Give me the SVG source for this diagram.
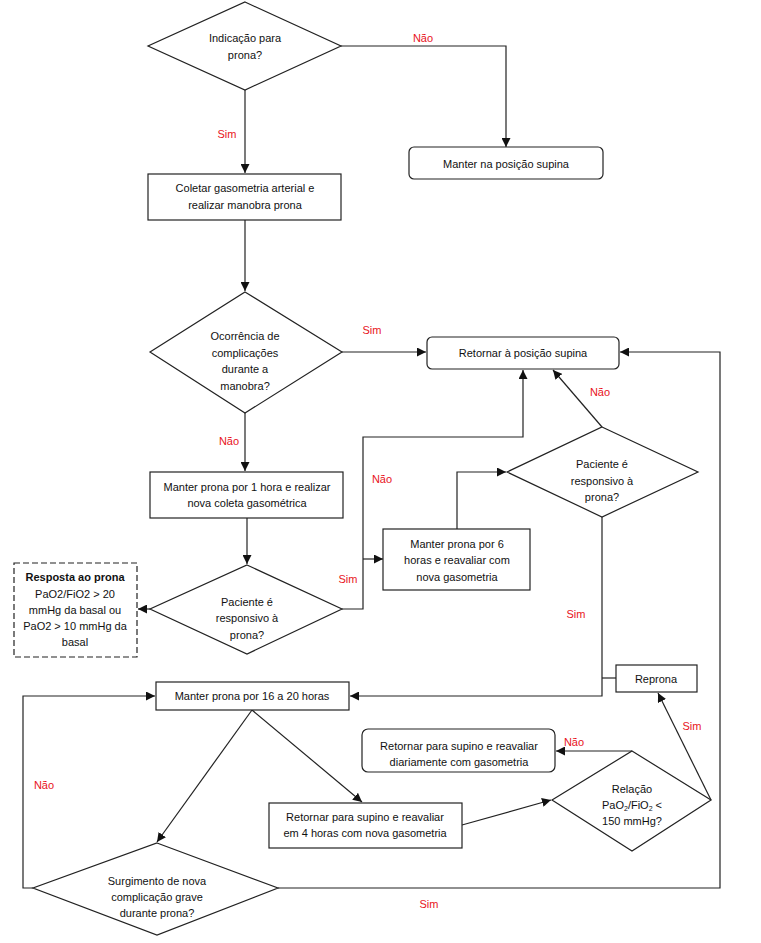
<svg xmlns="http://www.w3.org/2000/svg" width="761" height="943" viewBox="0 0 761 943">
<style>
.n{fill:#fff;stroke:#222;stroke-width:1.2}
.d{fill:#fff;stroke:#222;stroke-width:1.2;stroke-dasharray:6,3}
.t{font-family:"Liberation Sans",Arial,sans-serif;font-size:11px;fill:#111;text-anchor:middle}
.b{font-weight:bold}
.l{font-family:"Liberation Sans",Arial,sans-serif;font-size:11px;fill:#e8141c;text-anchor:middle}
.c{fill:none;stroke:#222;stroke-width:1.2}
</style>
<defs>
<marker id="a" viewBox="0 0 10 10" refX="10" refY="5" markerWidth="9" markerHeight="9" markerUnits="userSpaceOnUse" orient="auto">
<path d="M0,0 L10,5 L0,10 z" fill="#111"/>
</marker>
</defs>
<rect width="761" height="943" fill="#fff"/>
<g id="connectors" class="c" marker-end="url(#a)">
<path d="M341,46 H506 V147"/>
<path d="M245,90 V173"/>
<path d="M245,220 V291"/>
<path d="M342,352 H426"/>
<path d="M245,413 V471"/>
<path d="M247,518 V564"/>
<path d="M150,609 H138"/>
<path d="M342,609 H363 V437 H523 V370"/>
<path d="M363,559 H383"/>
<path d="M457,529 V472 H506"/>
<path d="M602,427 L553,370"/>
<path d="M602,517 V696 H350"/>
<path d="M616,678 H602" marker-end="none"/>
<path d="M711,800 L658,693"/>
<path d="M632,751 H556"/>
<path d="M462,825 L551,800"/>
<path d="M252,710 L157,842"/>
<path d="M252,710 L362,802"/>
<path d="M33,888 H23 V696 H155"/>
<path d="M278,888 H720 V352 H620"/>
</g>
<g id="labels">
<text class="l" x="423" y="42">Não</text>
<text class="l" x="227" y="138">Sim</text>
<text class="l" x="372" y="334">Sim</text>
<text class="l" x="229" y="445">Não</text>
<text class="l" x="382" y="483">Não</text>
<text class="l" x="600" y="396">Não</text>
<text class="l" x="348" y="583">Sim</text>
<text class="l" x="576" y="618">Sim</text>
<text class="l" x="44" y="789">Não</text>
<text class="l" x="574" y="746">Não</text>
<text class="l" x="692" y="730">Sim</text>
<text class="l" x="429" y="908">Sim</text>
</g>
<g id="d1">
<polygon class="n" points="245,2 341,46 245,90 148,46"/>
<text class="t" x="245" y="42">Indicação para</text>
<text class="t" x="245" y="59">prona?</text>
</g>
<g id="supina1">
<rect class="n" x="409" y="147" width="194" height="32" rx="5"/>
<text class="t" x="506" y="168">Manter na posição supina</text>
</g>
<g id="coletar">
<rect class="n" x="148" y="174" width="193" height="46"/>
<text class="t" x="245" y="192">Coletar gasometria arterial e</text>
<text class="t" x="245" y="209">realizar manobra prona</text>
</g>
<g id="d2">
<polygon class="n" points="245,292 342,352 245,413 150,352"/>
<text class="t" x="245" y="340">Ocorrência de</text>
<text class="t" x="245" y="357">complicações</text>
<text class="t" x="245" y="373">durante a</text>
<text class="t" x="245" y="390">manobra?</text>
</g>
<g id="retornar">
<rect class="n" x="427" y="337" width="192" height="32" rx="5"/>
<text class="t" x="523" y="357">Retornar à posição supina</text>
</g>
<g id="manter1h">
<rect class="n" x="150" y="472" width="193" height="46"/>
<text class="t" x="247" y="491">Manter prona por 1 hora e realizar</text>
<text class="t" x="247" y="507">nova coleta gasométrica</text>
</g>
<g id="d3">
<polygon class="n" points="247,565 342,609 247,654 150,609"/>
<text class="t" x="247" y="606">Paciente é</text>
<text class="t" x="247" y="622">responsivo à</text>
<text class="t" x="247" y="639">prona?</text>
</g>
<g id="resposta">
<rect class="d" x="14" y="563" width="123" height="94"/>
<text class="t b" x="75" y="581">Resposta ao prona</text>
<text class="t" x="75" y="598">PaO2/FiO2 &gt; 20</text>
<text class="t" x="75" y="614">mmHg da basal ou</text>
<text class="t" x="75" y="630">PaO2 &gt; 10 mmHg da</text>
<text class="t" x="75" y="646">basal</text>
</g>
<g id="manter6h">
<rect class="n" x="383" y="529" width="147" height="61"/>
<text class="t" x="457" y="548">Manter prona por 6</text>
<text class="t" x="457" y="564">horas e reavaliar com</text>
<text class="t" x="457" y="581">nova gasometria</text>
</g>
<g id="d4">
<polygon class="n" points="602,427 698,472 602,517 507,472"/>
<text class="t" x="602" y="468">Paciente é</text>
<text class="t" x="602" y="485">responsivo à</text>
<text class="t" x="602" y="501">prona?</text>
</g>
<g id="reprona">
<rect class="n" x="616" y="665" width="81" height="27"/>
<text class="t" x="656" y="683">Reprona</text>
</g>
<g id="manter16h">
<rect class="n" x="156" y="682" width="193" height="28"/>
<text class="t" x="252" y="700">Manter prona por 16 a 20 horas</text>
</g>
<g id="diariamente">
<rect class="n" x="362" y="729" width="193" height="43" rx="6"/>
<text class="t" x="459" y="750">Retornar para supino e reavaliar</text>
<text class="t" x="459" y="766">diariamente com gasometria</text>
</g>
<g id="retornar4h">
<rect class="n" x="269" y="803" width="193" height="45"/>
<text class="t" x="365" y="821">Retornar para supino e reavaliar</text>
<text class="t" x="365" y="837">em 4 horas com nova gasometria</text>
</g>
<g id="d6">
<polygon class="n" points="632,751 711,800 632,851 552,800"/>
<text class="t" x="632" y="793">Relação</text>
<text class="t" x="632" y="809">PaO<tspan font-size="7" dy="2">2</tspan><tspan dy="-2">/FiO</tspan><tspan font-size="7" dy="2">2</tspan><tspan dy="-2"> &lt;</tspan></text>
<text class="t" x="632" y="825">150 mmHg?</text>
</g>
<g id="d5">
<polygon class="n" points="157,843 278,888 157,935 33,888"/>
<text class="t" x="157" y="885">Surgimento de nova</text>
<text class="t" x="157" y="901">complicação grave</text>
<text class="t" x="157" y="917">durante prona?</text>
</g>
</svg>
